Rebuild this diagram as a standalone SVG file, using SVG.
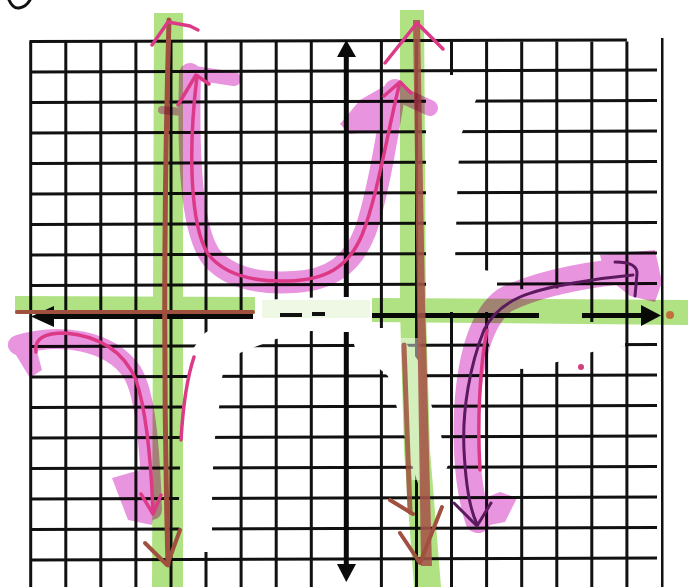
<svg xmlns="http://www.w3.org/2000/svg" width="688" height="587" viewBox="0 0 688 587">
<style>
.gl{stroke:#111;stroke-width:3;fill:none}
.ax{stroke:#0a0a0a;stroke-width:5;fill:none}
.ah{fill:#0a0a0a}
.wo{fill:#fff}
.hg{fill:#b0e283}
.hp{fill:none;stroke:#e88ede;stroke-linecap:round;stroke-linejoin:round}
.hpf{fill:#e88ede}
.br{fill:none;stroke:#a0503f;stroke-linecap:round;stroke-linejoin:round}
.dp{fill:none;stroke:#dc3a86;stroke-width:3.5;stroke-linecap:round;stroke-linejoin:round}
.pu{fill:none;stroke:#5b1a5e;stroke-width:3;stroke-linecap:round;stroke-linejoin:round}
.mul{mix-blend-mode:multiply}
</style>
<rect width="688" height="587" fill="#fff"/>
<g id="grid">
<path class="gl" d="M30.7 41.5V587M65.8 41.5V587M100.8 41.5V587M135.9 41.5V587M171 41.5V587M206 41.5V587M241.1 41.5V587M276.2 41.5V587M311.3 41.5V587M381.4 41.5V587M416.5 41.5V587M451.5 41.5V587M486.6 41.5V587M521.7 41.5V587M556.8 41.5V587M591.8 41.5V587M626.9 41.5V587M662 38V587"/>
<path class="gl" d="M29.5 41.5L626.9 40M30.7 72L657 70M30.7 102.5L657 100.5M30.7 133L657 131M30.7 163.5L657 161.5M30.7 194L657 192M30.7 224.5L657 222.5M30.7 255L657 253M30.7 285.5L657 283.5M30.7 346.5L657 344.5M30.7 377L657 375M30.7 407.5L657 405.5M30.7 438L657 436M30.7 468.5L657 466.5M30.7 499L657 497M30.7 529.5L657 527.5M30.7 560L657 558"/>
</g>
<g id="whiteout">
<polygon class="wo" points="426,75 478,75 476,100 468,118 461,135 458,170 456,230 455,262 470,268 497,272 497,312 426,312"/>
<polygon class="wo" points="489,290 575,288 585,322 625,322 625,346 592,352 557,362 522,369 495,366 489,345"/>
<polygon class="wo" points="230,318 253,312 262,300 345,296 370,300 372,318 360,330 346,331 311,331 290,336 276,339 260,345 242,352 226,360 222,378 219,408 215,438 213,468 212,500 212,530 211,552 180,552 179,500 180,468 182,440 182,406 188,378 192,350 205,333"/>
<polygon class="wo" points="350,328 400,328 406,343 426,372 431,404 441,435 448,465 440,485 420,490 413,468 405,438 397,408 388,376 355,348"/>
<rect x="657" y="30" width="4" height="557" fill="#fff"/>
</g>
<g id="axes">
<path class="ax" d="M346.3 54V297M346.3 332V566"/>
<polygon class="ah" points="346.3,40 356,57 337,57"/>
<polygon class="ah" points="346.3,582 356,564 337,564"/>
<path class="ax" d="M50 316.5H253M372 315.5H539M582 315.5H645"/>
<polygon class="ah" points="31,316.5 54,306 54,327"/>
<polygon class="ah" points="661,315.5 641,305 641,326"/>
<path d="M280 315H302M312 314H325" stroke="#111" stroke-width="4"/>
</g>
<g id="green-highlight" class="mul">
<polygon class="hg" points="15,296 255,297 255,314 15,314"/>
<rect x="262" y="300" width="108" height="18" fill="#eef8e4"/>
<polygon class="hg" points="372,298 688,300 688,325 372,322"/>
<polygon class="hg" points="154,13 183,13 183,587 152,587"/>
<polygon class="hg" points="400,10 424,10 426,310 430,450 441,587 414,587 404,450 400,310"/>
</g>
<polygon points="401,338 421,338 421,480 412,480" fill="#fff" opacity="0.45"/>
<g id="asymptotes">
<path class="br" stroke-width="5" d="M169 20Q161 300 168 565"/>
<path class="br" stroke-width="4" d="M145 543L167 565M180 530L168 563"/>
<polygon points="413,20 420,20 425,300 432,566 421,566 417,300" fill="#a6544a" opacity="0.88"/>
<path class="br" stroke="#b04a60" stroke-width="5" opacity="0.85" d="M404 345L410 512"/>
<path class="br" stroke="#b04a60" stroke-width="4" d="M390 500L413 514M400 533L420 563L442 507"/>
<path class="br" stroke-width="4" d="M17 312H253"/>
<circle cx="670" cy="315" r="4" fill="#c0703a"/>
</g>
<g id="pink-highlight" class="mul" opacity="0.95">
<path class="hp" stroke-width="22" d="M190 74C188 150 190 230 212 258C232 280 265 284 295 282C330 280 352 265 365 232C378 195 388 130 395 90"/>
<path class="hp" stroke-width="14" d="M188 72L234 79"/>
<path class="hp" stroke-width="8" d="M162 110L182 112"/>
<polygon class="hpf" points="340,124 360,100 388,84 396,96 382,130 350,134"/>
<path class="hp" stroke-width="16" d="M395 92L430 108"/>
<path class="hp" stroke-width="20" d="M18 345C60 332 110 340 132 372C146 395 150 450 152 510"/>
<polygon class="hpf" points="8,342 32,333 42,370 30,378"/>
<polygon class="hpf" points="112,478 140,470 156,495 152,525 128,520"/>
<path class="hp" stroke-width="26" d="M640 270C600 272 540 282 505 300C480 318 470 360 467 410C465 460 470 495 478 520"/>
<polygon class="hpf" points="600,255 655,250 662,282 655,302 630,296 605,276"/>
<polygon class="hpf" points="480,500 500,492 517,498 505,522 485,526"/>
</g>
<g id="pens">
<path class="dp" d="M197 76C188 150 190 225 208 254C225 276 255 282 288 281C325 280 348 268 362 235C377 198 388 130 399 86"/>
<path class="dp" d="M178 105L196 75L209 84"/>
<path class="dp" d="M384 96L400 82L411 93"/>
<path class="dp" d="M152 45L168 22L190 26L198 30"/>
<path class="dp" d="M385 63L417 23L443 49"/>
<path class="dp" d="M36 352C34 338 45 333 65 333C100 336 124 352 136 380C146 410 151 460 153 512"/>
<path class="dp" d="M141 494L153 514L161 495"/>
<path class="dp" stroke-width="3" d="M194 357C188 375 183 405 181 440"/>
<path class="dp" stroke-width="3" d="M487 330C480 365 477 420 480 470"/>
<path class="pu" d="M633 275C600 278 545 286 520 297C500 306 490 318 484 330C470 365 462 410 464 450C466 490 471 512 477 524"/>
<path class="pu" d="M615 262Q638 262 637 274L635 296"/>
<path class="pu" d="M454 503L477 526L491 503"/>
<circle cx="581" cy="367" r="3" fill="#d04080"/>
<path fill="none" stroke="#111" stroke-width="3" stroke-linecap="round" d="M9 0Q13 9 19 8Q26 7 30 0"/>
</g>
</svg>
